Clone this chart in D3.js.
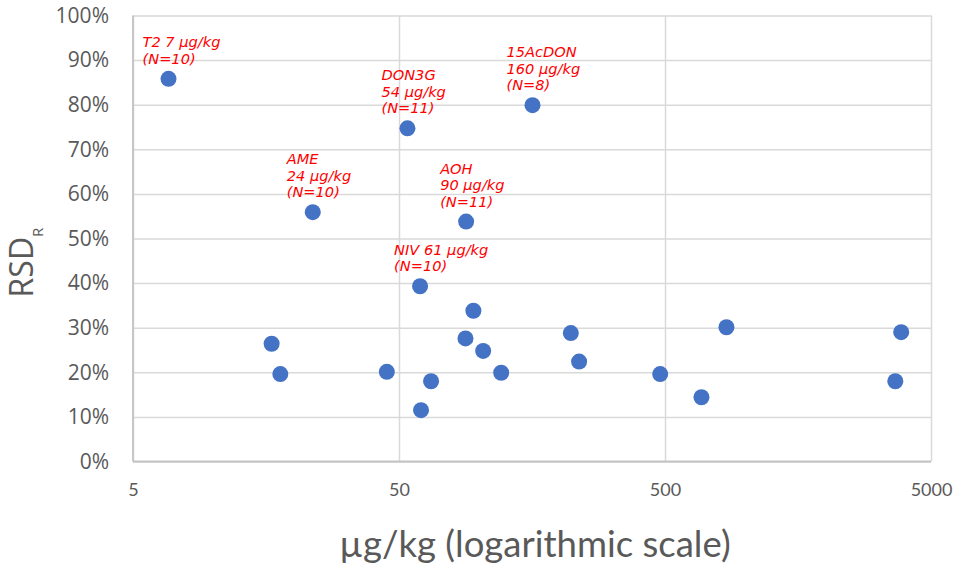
<!DOCTYPE html>
<html>
<head>
<meta charset="utf-8">
<script src="https://cdn.jsdelivr.net/npm/d3@7"></script>
<style>
  body { margin: 0; background: #fff; }
  .tick text { fill: #595959; }
</style>
</head>
<body>
<svg id="chart"></svg>
<script>
// concentration in µg/kg (x, log scale) and RSD_R (y)
const concentration = [6.8, 16.6, 17.9, 23.7, 45.0, 53.8, 60.0, 60.5, 66.0, 89.4, 88.9,
    95.2, 103.6, 121.1, 158.8, 221.3, 237.7, 479.6, 685.6, 851, 3671, 3863];
const rsd = [0.858, 0.264, 0.196, 0.559, 0.201, 0.747, 0.393, 0.115, 0.180, 0.538, 0.276,
    0.338, 0.248, 0.199, 0.799, 0.288, 0.224, 0.196, 0.144, 0.301, 0.180, 0.290];
const pointLabels = [
    ['T2 7 µg/kg', '(N=10)'], null, null,
    ['AME', '24 µg/kg', '(N=10)'], null,
    ['DON3G', '54 µg/kg', '(N=11)'],
    ['NIV 61 µg/kg', '(N=10)'], null, null,
    ['AOH', '90 µg/kg', '(N=11)'], null, null, null, null,
    ['15AcDON', '160 µg/kg', '(N=8)'],
    null, null, null, null, null, null, null
];
const xTicks = [5, 50, 500, 5000];
const yTicks = [0, 0.1, 0.2, 0.3, 0.4, 0.5, 0.6, 0.7, 0.8, 0.9, 1];

const width = 961;
const height = 568;
const padding = { top: 15.5, right: 30, down: 106.5, left: 133 };

const svg = d3.select('#chart')
    .attr('width', width)
    .attr('height', height);

const xScale = d3.scaleLog()
    .domain([5, 5000])
    .range([padding.left, width - padding.right]);
const yScale = d3.scaleLinear()
    .domain([0, 1])
    .range([height - padding.down, padding.top]);

const plotW = width - padding.left - padding.right;
const plotH = height - padding.top - padding.down;

/* Y axis + horizontal grid */
const yAxis = d3.axisLeft(yScale)
    .tickValues(yTicks)
    .tickFormat(d3.format('.0%'))
    .tickSize(-plotW)
    .tickPadding(24);
const gy = svg.append('g')
    .attr('transform', `translate(${padding.left}, 0)`)
    .call(yAxis);
gy.select('.domain').remove();
gy.selectAll('line').attr('stroke', '#d9d9d9').attr('stroke-width', 1.5);
gy.selectAll('text')
    .style('font-family', '"Open Sans", sans-serif')
    .style('font-size', '21px');

/* X axis + vertical grid */
const xAxis = d3.axisBottom(xScale)
    .tickValues(xTicks)
    .tickFormat(d3.format('d'))
    .tickSize(-plotH)
    .tickPadding(22);
const gx = svg.append('g')
    .attr('transform', `translate(0, ${height - padding.down})`)
    .call(xAxis);
gx.select('.domain').remove();
gx.selectAll('line').attr('stroke', '#d9d9d9').attr('stroke-width', 1.5);
gx.selectAll('text')
    .style('font-family', 'Lato, sans-serif')
    .style('font-size', '18px');

/* axis lines */
svg.append('line')
    .attr('x1', padding.left).attr('x2', width - padding.right)
    .attr('y1', yScale(0)).attr('y2', yScale(0))
    .attr('stroke', '#c4c4c4').attr('stroke-width', 1.8);
svg.append('line')
    .attr('x1', padding.left).attr('x2', padding.left)
    .attr('y1', yScale(0)).attr('y2', yScale(1))
    .attr('stroke', '#c4c4c4').attr('stroke-width', 1.8);

/* axis titles */
svg.append('text')
    .attr('x', 535)
    .attr('y', 557)
    .attr('text-anchor', 'middle')
    .attr('fill', '#595959')
    .style('font-family', 'Lato, sans-serif')
    .style('font-size', '36.5px')
    .text('µg/kg (logarithmic scale)');

const yTitle = svg.append('text')
    .attr('transform', 'translate(33, 262.5) rotate(-90)')
    .attr('text-anchor', 'middle')
    .attr('fill', '#595959')
    .style('font-family', '"Open Sans", sans-serif')
    .style('font-size', '32px');
yTitle.append('tspan').text('RSD');
yTitle.append('tspan')
    .attr('dy', 10)
    .style('font-size', '15px')
    .text('R');

/* points */
const points = concentration.map((c, i) => ({ c, r: rsd[i], label: pointLabels[i] }));

svg.append('g')
    .selectAll('circle')
    .data(points).enter()
    .append('circle')
    .attr('cx', d => xScale(d.c))
    .attr('cy', d => yScale(d.r))
    .attr('r', 8)
    .attr('fill', '#4472c4');

/* labels */
const lineH = 16.5;
const labels = svg.append('g')
    .selectAll('text')
    .data(points.filter(d => d.label)).enter()
    .append('text')
    .attr('fill', '#ff0000')
    .style('font-family', '"DejaVu Sans", sans-serif')
    .style('font-style', 'italic')
    .style('font-size', '14.6px');
labels.each(function(d) {
    const t = d3.select(this);
    const n = d.label.length;
    d.label.forEach((line, j) => {
        t.append('tspan')
            .attr('x', xScale(d.c) - 26)
            .attr('y', yScale(d.r) - 15 - (n - 1 - j) * lineH)
            .text(line);
    });
});
</script>
</body>
</html>
